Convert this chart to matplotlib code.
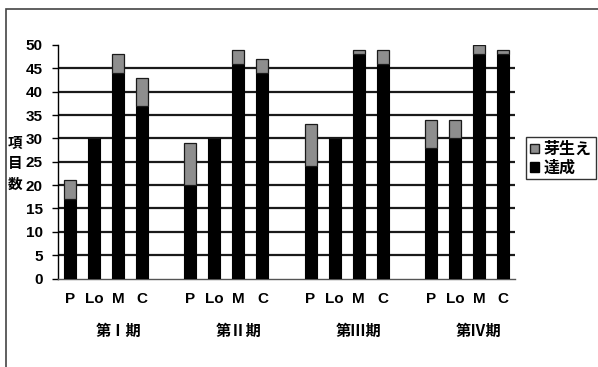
import matplotlib
matplotlib.use("Agg")
import matplotlib.pyplot as plt
from matplotlib.patches import Patch, Rectangle

plt.rcParams['font.family'] = ['Noto Sans CJK JP', 'DejaVu Sans']

periods = ['第Ⅰ期', '第Ⅱ期', '第Ⅲ期', '第Ⅳ期']
subjects = ['P', 'Lo', 'M', 'C']
achieved = [
    [17, 30, 44, 37],
    [20, 30, 46, 44],
    [24, 30, 48, 46],
    [28, 30, 48, 48],
]
budding = [
    [4, 0, 4, 6],
    [9, 0, 3, 3],
    [9, 0, 1, 3],
    [6, 4, 2, 1],
]
yticks = list(range(0, 51, 5))

BUD_COLOR = '#8e8e8e'

fig = plt.figure(figsize=(5.98, 3.67), dpi=100)
fig.patch.set_facecolor('white')
# outer frame around the chart
fig.add_artist(Rectangle((6 / 598, -0.05), 1.2, 1 - 9 / 367 + 0.05,
                         transform=fig.transFigure, fill=False,
                         edgecolor='#444444', linewidth=1.2))

ax = fig.add_axes([58 / 598, 1 - 278.5 / 367, (515 - 58) / 598, (278.5 - 45) / 367])

slots = len(subjects) + 1
xs, done, bud, labels = [], [], [], []
for g in range(len(periods)):
    for i, s in enumerate(subjects):
        xs.append(g * slots + i)
        done.append(achieved[g][i])
        bud.append(budding[g][i])
        labels.append(s)

for y in yticks[1:-1]:
    ax.axhline(y, color='#1a1a1a', linewidth=1.6, zorder=1)

ax.bar(xs, done, width=0.5, color='black', edgecolor='black', linewidth=0.8, zorder=3)
ax.bar(xs, bud, bottom=done, width=0.5, color=BUD_COLOR, edgecolor='#1a1a1a',
       linewidth=0.9, zorder=3)

ax.set_xlim(-0.5, len(periods) * slots - 1.5)
ax.set_ylim(0, 50)
ax.set_yticks(yticks)
ax.set_yticklabels([str(v) for v in yticks], fontsize=11, fontweight='bold',
                   family=['Liberation Sans', 'DejaVu Sans'])
ax.tick_params(axis='y', direction='out', length=4, width=1, pad=7)
ax.set_xticks(xs)
ax.set_xticklabels(labels, fontsize=11, fontweight='bold',
                   family=['Liberation Sans', 'DejaVu Sans'])
ax.tick_params(axis='x', length=0, pad=10)

for side in ['top', 'right']:
    ax.spines[side].set_visible(False)
ax.spines['left'].set_linewidth(1.0)
ax.spines['bottom'].set_linewidth(1.0)
ax.spines['bottom'].set_color('#555555')

for g, p in enumerate(periods):
    ax.text(g * slots + 2, -0.225, p, transform=ax.get_xaxis_transform(),
            ha='center', va='center', fontsize=11, fontweight='bold')

fig.text(15 / 598, 1 - 163 / 367, '項\n目\n数', ha='center', va='center',
         fontsize=10.5, fontweight='bold', linespacing=1.35)

handles = [Patch(facecolor=BUD_COLOR, edgecolor='#1a1a1a', label='芽生え'),
           Patch(facecolor='black', edgecolor='black', label='達成')]
leg = fig.legend(handles=handles, loc='upper left', bbox_to_anchor=(526 / 598, 1 - 137 / 367),
                 frameon=True, fancybox=False, edgecolor='black', handlelength=0.55,
                 handleheight=0.55, handletextpad=0.3, borderpad=0.25, borderaxespad=0,
                 labelspacing=0.15, prop={'size': 11.5, 'weight': 'bold'})
leg.get_frame().set_linewidth(1.0)

fig.savefig('out.png', dpi=100, facecolor='white')
